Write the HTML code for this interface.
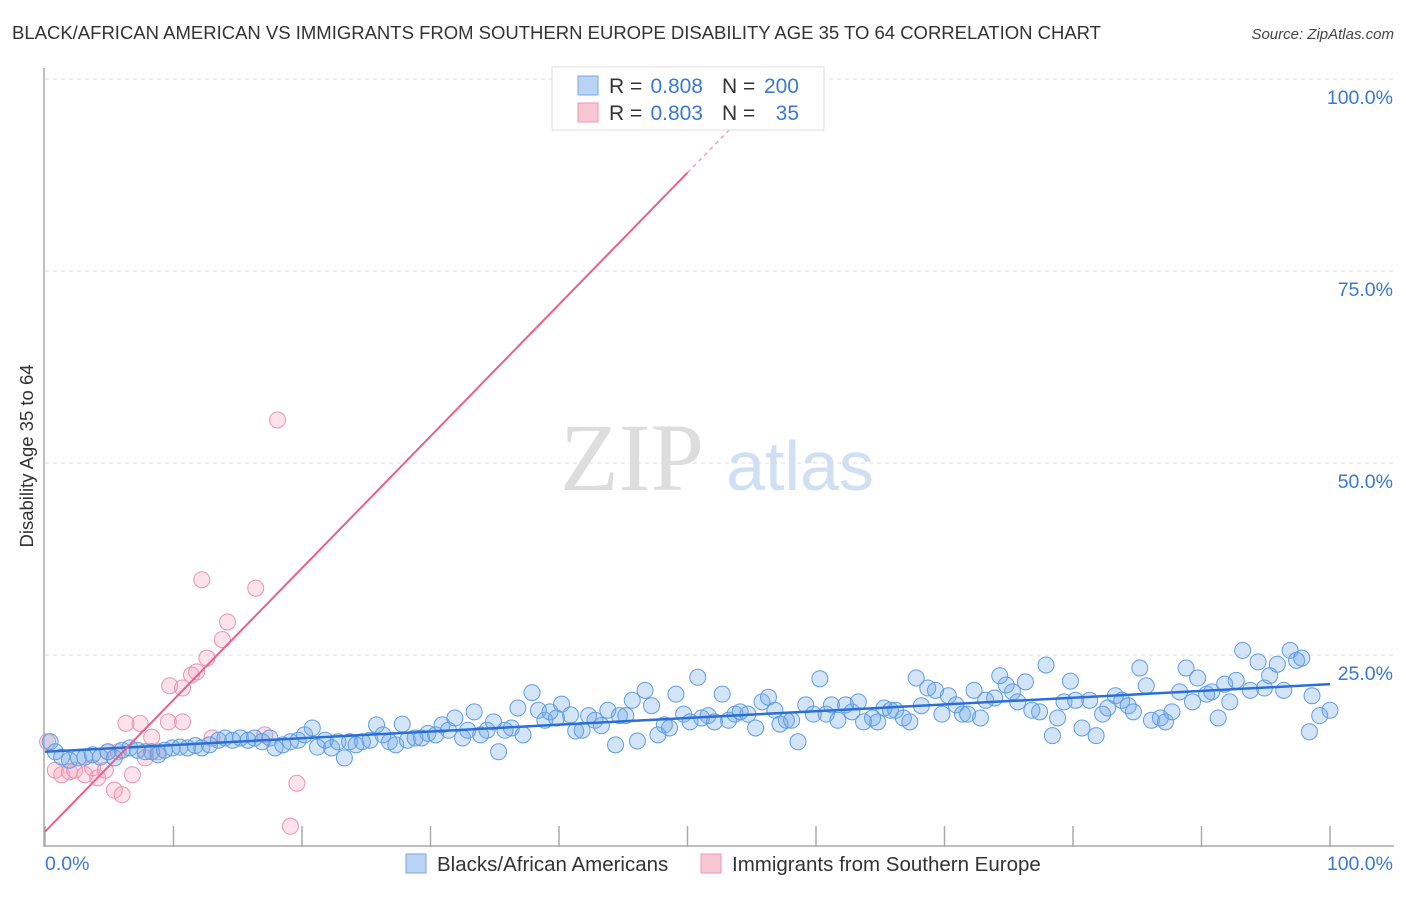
<!DOCTYPE html>
<html><head><meta charset="utf-8"><style>
body{margin:0;background:#fff;font-family:"Liberation Sans",sans-serif;}
svg text{font-family:"Liberation Sans",sans-serif;}
</style></head><body>
<svg id="chart" width="1406" height="892" viewBox="0 0 1406 892" xmlns="http://www.w3.org/2000/svg">
<text x="12" y="39" font-size="18.5" fill="#333">BLACK/AFRICAN AMERICAN VS IMMIGRANTS FROM SOUTHERN EUROPE DISABILITY AGE 35 TO 64 CORRELATION CHART</text>
<text x="1394" y="39" font-size="15" fill="#444" text-anchor="end" font-style="italic">Source: ZipAtlas.com</text>
<g>
<text x="632" y="490" font-size="96" fill="#ddd" text-anchor="middle" style="font-family:'Liberation Serif',serif">ZIP</text>
<text x="800" y="490" font-size="70" fill="#cfe0f5" text-anchor="middle">atlas</text>
</g>
<g id="grid"></g>
<g id="axes"></g>
<g id="pink"></g>
<g id="blue"></g>
<g id="lines"></g>
<text transform="translate(33,456) rotate(-90)" font-size="18.5" fill="#333" text-anchor="middle">Disability Age 35 to 64</text>
<text x="45" y="870" font-size="19.5" fill="#3a78d4">0.0%</text>
<text x="1393" y="870" font-size="19.5" fill="#3a78d4" text-anchor="end">100.0%</text>
<g>
<rect x="552" y="67" width="272" height="63" fill="#fff" stroke="#ddd"/>
<rect x="578" y="76" width="20" height="19" fill="#b9d3f5" stroke="#7aa8e4"/>
<rect x="578" y="103" width="20" height="19" fill="#f9c6d4" stroke="#eb9ab3"/>
<text x="609" y="93" font-size="21" fill="#333">R = </text>
<text x="703" y="93" font-size="21" fill="#3a78d4" text-anchor="end">0.808</text>
<text x="722" y="93" font-size="21" fill="#333">N = </text>
<text x="799" y="93" font-size="21" fill="#3a78d4" text-anchor="end">200</text>
<text x="609" y="120" font-size="21" fill="#333">R = </text>
<text x="703" y="120" font-size="21" fill="#3a78d4" text-anchor="end">0.803</text>
<text x="722" y="120" font-size="21" fill="#333">N = </text>
<text x="799" y="120" font-size="21" fill="#3a78d4" text-anchor="end">35</text>
</g>
<g>
<rect x="406" y="854" width="20" height="19" fill="#b9d3f5" stroke="#7aa8e4"/>
<text x="437" y="871" font-size="20.5" fill="#333">Blacks/African Americans</text>
<rect x="701" y="854" width="20" height="19" fill="#f9c6d4" stroke="#eb9ab3"/>
<text x="732" y="871" font-size="20.5" fill="#333">Immigrants from Southern Europe</text>
</g>
</svg>
<script>
const yTicks=[25,50,75,100];
const yTickLabels=["25.0%","50.0%","75.0%","100.0%"];
const xTicks=[0,10,20,30,40,50,60,70,80,90,100];
const blueX=[0.4,0.8,1.3,1.9,2.6,3.1,3.7,4.3,4.9,5.4,6.0,6.6,7.2,7.8,8.3,8.8,9.3,9.9,10.5,11.1,11.7,12.2,12.8,13.5,14.0,14.6,15.2,15.8,16.3,16.9,17.5,17.9,18.5,19.1,19.7,20.2,20.8,21.2,21.8,22.3,22.8,23.3,23.7,24.2,24.7,25.3,25.8,26.3,26.8,27.3,27.8,28.2,28.8,29.3,29.8,30.4,30.9,31.4,31.9,32.5,32.9,33.4,33.9,34.4,34.9,35.3,35.8,36.3,36.8,37.2,37.9,38.4,38.9,39.3,39.8,40.2,40.9,41.3,41.8,42.3,42.8,43.3,43.8,44.4,44.7,45.2,45.7,46.1,46.7,47.2,47.7,48.2,48.6,49.1,49.7,50.2,50.8,51.1,51.6,52.1,52.7,53.2,53.7,54.1,54.7,55.3,55.8,56.3,56.8,57.2,57.7,58.1,58.6,59.2,59.8,60.3,60.8,61.2,61.7,62.3,62.8,63.3,63.7,64.4,64.8,65.3,65.8,66.2,66.8,67.3,67.8,68.2,68.7,69.3,69.8,70.3,70.9,71.4,71.8,72.3,72.8,73.2,73.9,74.3,74.8,75.3,75.7,76.3,76.8,77.4,77.9,78.4,78.8,79.3,79.8,80.2,80.7,81.3,81.8,82.3,82.7,83.3,83.8,84.3,84.7,85.2,85.7,86.1,86.8,87.2,87.7,88.3,88.8,89.3,89.7,90.4,90.8,91.3,91.8,92.2,92.7,93.2,93.8,94.4,94.9,95.3,95.9,96.4,96.9,97.4,97.8,98.6,98.4,99.2,100];
const blueY=[13.7,12.4,11.7,11.3,11.6,11.7,12.0,11.7,12.4,11.6,12.6,12.9,12.6,12.4,12.4,12.0,12.6,12.9,13.0,12.9,13.2,12.9,13.3,13.9,14.2,13.9,14.2,13.9,14.2,13.7,14.2,12.9,13.3,13.7,13.9,14.6,15.5,13.0,13.9,12.9,13.7,11.6,13.7,13.3,13.7,13.9,15.9,14.6,13.7,13.3,16.0,13.9,14.2,14.2,14.8,14.6,15.9,15.2,16.8,14.2,15.2,17.6,14.6,15.2,16.3,12.4,15.2,15.5,18.1,14.6,20.1,17.8,16.5,17.6,16.8,18.6,17.2,15.1,15.2,17.1,16.5,15.8,17.8,13.3,17.1,17.1,19.1,13.8,20.4,18.4,14.6,15.9,15.5,19.9,17.3,16.3,22.1,16.8,17.1,16.3,19.9,16.5,17.3,17.6,17.3,15.5,18.9,19.5,17.8,16.0,16.5,16.5,13.7,18.5,17.3,21.9,17.3,18.5,16.5,18.5,17.6,18.9,16.3,16.8,16.3,18.1,17.8,17.8,16.8,16.3,22.0,18.4,20.7,20.4,17.3,19.7,18.5,17.3,17.3,20.4,16.8,19.1,19.4,22.3,21.1,20.2,18.9,21.5,17.8,17.6,23.7,14.5,16.8,18.9,21.6,19.1,15.5,19.1,14.5,17.3,18.1,19.7,19.1,18.4,17.6,23.3,21.0,16.5,16.8,16.3,17.6,20.2,23.3,18.9,22.0,19.9,20.2,16.8,21.2,18.9,21.7,25.6,20.4,24.1,20.7,22.3,23.8,20.4,25.6,24.3,24.6,19.7,15.0,17.1,17.8];
const pinkX=[0.2,0.8,1.3,1.9,2.3,3.1,3.7,4.1,4.7,4.9,5.4,6.0,6.3,6.8,7.4,7.8,8.3,8.8,9.6,9.7,10.7,10.7,11.4,11.8,12.2,12.6,13.0,13.8,14.2,16.4,17.1,18.1,19.1,19.6,5.7];
const pinkY=[13.7,10.0,9.4,9.8,10.0,9.4,10.3,9.0,10.0,12.4,7.4,6.8,16.1,9.4,16.1,11.6,14.3,12.4,16.3,21.0,20.7,16.3,22.4,22.8,34.8,24.6,14.2,27.0,29.3,33.7,14.6,55.6,2.7,8.3,12.4];
const blueTrend=[12.4,0.088];
const pinkTrend=[2.0,1.716];

const X0=45,X1=1330,Y0=847,Y1=79;
const sx=v=>X0+(X1-X0)*v/100;
const sy=v=>Y0-(Y0-Y1)*v/100;
const NS="http://www.w3.org/2000/svg";
function mk(tag,attrs,parent){const e=document.createElementNS(NS,tag);for(const k in attrs)e.setAttribute(k,attrs[k]);parent.appendChild(e);return e;}
const grid=document.getElementById('grid'),axes=document.getElementById('axes');
yTicks.forEach((t,i)=>{
 const l=mk('line',{x1:X0,x2:1394,y1:sy(t),y2:sy(t),stroke:'#ddd','stroke-dasharray':'4,4'},grid);
 
 
 const tx=mk('text',{x:1393,y:sy(t)+25,'font-size':19.5,fill:'#3a78d4','text-anchor':'end'},grid);
 tx.textContent=yTickLabels[i];
 
 
});
const ax=mk('path',{d:`M${X0-1},68 V${Y0-1} H1394`,stroke:'#aaa',fill:'none','stroke-width':1.5},axes);


xTicks.forEach(t=>{
 const l=mk('line',{x1:sx(t),x2:sx(t),y1:826,y2:Y0,stroke:'#aaa','stroke-width':1.5},axes);
 
 
});
function dots(xs,ys,g,fill,stroke,name){
 xs.forEach((x,i)=>{
  const c=mk('circle',{cx:sx(x),cy:sy(ys[i]),r:8,fill:fill,stroke:stroke,'stroke-width':1},g);
  
  
 });
}
dots(pinkX,pinkY,document.getElementById('pink'),'rgba(244,160,185,0.3)','#e994ae','pink-point');
dots(blueX,blueY,document.getElementById('blue'),'rgba(110,165,230,0.3)','#5f9de2','blue-point');
const lg=document.getElementById('lines');
const bl=mk('line',{x1:sx(0),y1:sy(blueTrend[0]),x2:sx(100),y2:sy(blueTrend[0]+blueTrend[1]*100),stroke:'#2a6fd8','stroke-width':2.5},lg);


const pl=mk('line',{x1:sx(0),y1:sy(pinkTrend[0]),x2:sx(50),y2:sy(pinkTrend[0]+pinkTrend[1]*50),stroke:'#e8608a','stroke-width':2},lg);


const pd=mk('line',{x1:sx(50),y1:sy(pinkTrend[0]+pinkTrend[1]*50),x2:sx(54),y2:sy(pinkTrend[0]+pinkTrend[1]*54),stroke:'#f0a0b8','stroke-width':1.5,'stroke-dasharray':'4,4'},lg);


</script>
</body></html>
